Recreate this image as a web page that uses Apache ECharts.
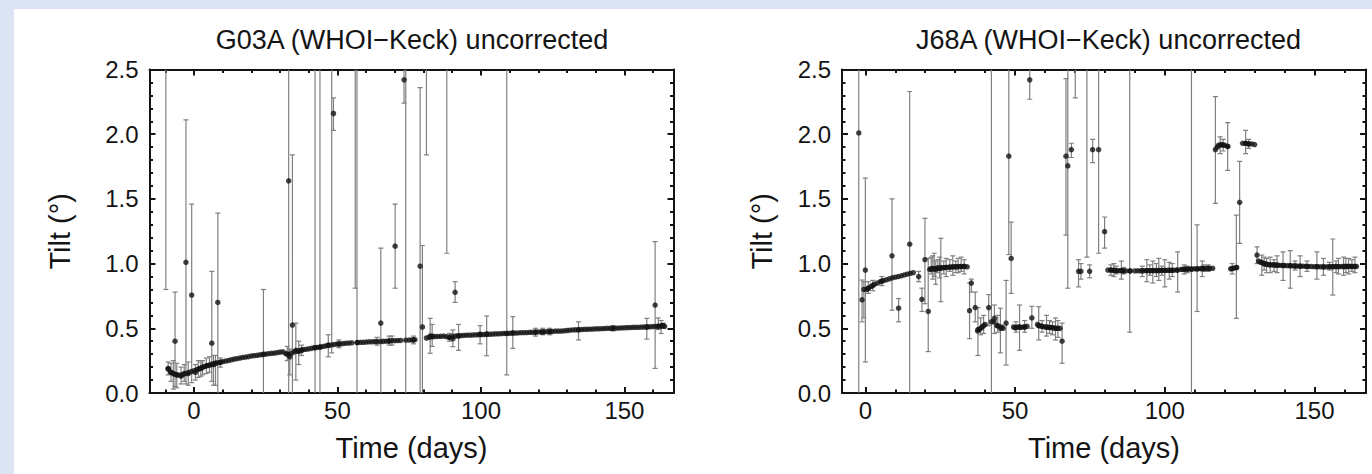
<!DOCTYPE html>
<html>
<head>
<meta charset="utf-8">
<script src="https://cdn.jsdelivr.net/npm/echarts@6/dist/echarts.min.js"></script>
<style>
html,body{margin:0;padding:0;background:#dce4f4;width:1372px;height:474px;overflow:hidden;}
#chart{position:absolute;left:14px;top:9px;width:1358px;height:465px;background:#ffffff;}
</style>
</head>
<body>
<div id="chart"></div>
<script>
// ---------------- DATA ----------------
const xTickValues = [0, 50, 100, 150];
const xMinorTicks = [-10, 10, 20, 30, 40, 60, 70, 80, 90, 110, 120, 130, 140, 160];
const yTickLabels = ['0.0', '0.5', '1.0', '1.5', '2.0', '2.5'];

const titles = ['G03A (WHOI\u2212Keck) uncorrected', 'J68A (WHOI\u2212Keck) uncorrected'];

// G03A dense series (no visible error bars)
const g03BandDays = [-9,-8,-7,-6,-5,-4,-3,-2,-1,0,1,2,3,4,5,6,7,8,9,10,11,12,13,14,15,16,17,18,19,20,21,22,23,24,25,26,27,28,29,30,31,32,33,34,35,36,37,38,39,40,41,42,43,44,45,46,47,48,49,50,51,52,53,54,55,
  57,58,59,60,61,62,63,65,66,67,68,70,71,72,75,76,77,
  81,82,83,84,85,86,87,88,89,90,91,92,93,94,95,96,97,98,99,100,101,102,103,104,105,106,107,108,109,110,111,112,113,114,115,116,117,118,119,120,121,122,123,124,125,126,127,128,129,130,131,132,133,134,135,136,137,138,139,140,141,142,143,144,145,146,147,148,149,150,151,152,153,154,155,156,157,158,159,160,161,162,163,164];
const g03BandTilt = [0.185,0.16,0.148,0.14,0.138,0.142,0.15,0.158,0.165,0.172,0.18,0.19,0.198,0.207,0.213,0.221,0.226,0.232,0.236,0.242,0.247,0.251,0.257,0.262,0.265,0.27,0.275,0.278,0.281,0.286,0.288,0.291,0.295,0.297,0.30,0.304,0.306,0.308,0.312,0.316,0.318,0.305,0.298,0.308,0.318,0.324,0.33,0.335,0.338,0.341,0.345,0.35,0.352,0.355,0.36,0.365,0.368,0.371,0.375,0.379,0.38,0.382,0.385,0.386,0.388,
  0.39,0.392,0.392,0.394,0.396,0.396,0.397,0.398,0.399,0.40,0.402,0.404,0.405,0.406,0.409,0.41,0.412,
  0.425,0.43,0.434,0.436,0.437,0.438,0.44,0.435,0.43,0.438,0.44,0.443,0.444,0.445,0.447,0.447,0.448,0.45,0.45,0.451,0.452,0.454,0.454,0.455,0.457,0.457,0.458,0.46,0.46,0.461,0.463,0.463,0.464,0.466,0.466,0.467,0.469,0.469,0.47,0.472,0.472,0.473,0.475,0.475,0.476,0.478,0.478,0.479,0.481,0.483,0.485,0.487,0.488,0.489,0.49,0.492,0.492,0.493,0.494,0.496,0.496,0.497,0.498,0.5,0.5,0.501,0.501,0.502,0.503,0.504,0.505,0.506,0.507,0.508,0.508,0.509,0.51,0.511,0.512,0.513,0.514,0.516,0.52,0.515];

// G03A points with error bars (day, tilt, lower end, upper end)
const g03BarDays = [-9.8,-9.0,-6.6,-6.0,-4.5,-2.8,-2.0,-0.8,0.5,3.0,6.2,6.8,8.3,7.5,24.2,33.0,33.4,34.3,35.5,36.5,42.2,43.9,46.8,48.0,48.6,56.2,56.8,65.1,68.0,70.1,73.2,73.8,78.8,79.6,81.0,82.3,83.0,88.1,90.2,91.0,92.2,99.7,102.0,109.0,111.1,119.0,134.0,157.8,160.7,161.8,163.5,
  -8.0,-7.2,-3.4,1.5,2.4,4.3,5.4,9.2,32.5,37.5,50.5,63.8,69.0,76.5,89.0,121.5,124.0,146.0,162.8];
const g03BarTilt = [2.9,0.19,0.40,0.14,0.13,1.01,0.15,0.757,0.16,0.20,0.385,0.22,0.70,0.23,0.30,1.64,0.28,0.525,0.33,0.32,0.35,0.355,0.37,2.7,2.16,2.9,0.39,0.54,0.40,1.135,2.42,0.408,0.98,0.51,2.9,0.44,0.44,2.9,0.42,0.778,0.44,0.454,0.456,0.46,0.465,0.47,0.487,0.51,0.68,0.515,0.52,
  0.16,0.15,0.15,0.185,0.19,0.21,0.215,0.237,0.30,0.33,0.378,0.397,0.404,0.41,0.43,0.472,0.475,0.50,0.516];
const g03BarLow = [0.80,0.14,0.05,0.04,0.07,0.07,0.06,0.08,0.10,0.14,0.09,0.06,-0.2,0.06,-0.2,-0.2,0.14,-0.2,0.10,0.22,-0.3,-0.3,0.28,0.31,2.03,0.81,-0.3,-0.1,0.37,0.81,2.24,-0.3,-0.4,-0.1,1.84,0.307,0.36,1.08,0.358,0.70,0.33,0.38,0.288,0.14,0.345,0.44,0.41,0.417,0.19,0.49,0.50,
  0.09,0.03,0.09,0.12,0.13,0.15,0.16,0.20,0.25,0.29,0.35,0.37,0.37,0.38,0.40,0.45,0.45,0.48,0.46];
const g03BarHigh = [5.0,0.24,0.78,0.23,0.20,2.11,0.24,1.46,0.22,0.25,0.94,0.29,1.39,0.29,0.80,3.5,0.34,1.84,0.54,0.40,3.0,3.0,0.45,5.0,2.28,5.0,3.0,1.12,0.44,1.46,2.6,3.0,2.36,1.14,5.0,0.577,0.53,5.0,0.487,0.86,0.53,0.52,0.595,3.0,0.59,0.50,0.55,0.577,1.17,0.58,0.54,
  0.23,0.25,0.22,0.25,0.24,0.27,0.28,0.27,0.36,0.37,0.41,0.43,0.44,0.44,0.46,0.50,0.50,0.52,0.56];

// J68A dense series
const j68BandDays = [0.5,1,2,3,4,5,6,7,8,9,10,11,12,13,14,15,16,
  21.5,22,23,24,25,26,27,28,29,30,31,32,33,34,
  37.5,38,39,40,
  43,44,45.5,46,
  49.5,50,51,52,53,54,
  57.5,58,59,60,61,62,63,64,65,
  81,82,83,84,85,86,87,88.5,90,
  91,92,93,94,95,96,97,98,99,100,101,102,103,104,
  105.5,106,107,108,109,110,111,112,113,114,115,116,
  117.5,118,119,120,121,
  122,123,124,
  126,127,128,129,130,
  131.3,132,133,134,135,136,137,138,139,140,141,142,143,144,145,146,147,148,149,150,151,152,153,154,155,156,157,158,159,160,161,162,163,164];
const j68BandTilt = [0.80,0.81,0.825,0.84,0.85,0.86,0.868,0.875,0.882,0.89,0.895,0.90,0.906,0.912,0.918,0.925,0.93,
  0.955,0.96,0.962,0.965,0.967,0.968,0.97,0.972,0.974,0.975,0.976,0.977,0.978,0.975,
  0.48,0.49,0.51,0.53,
  0.55,0.52,0.51,0.50,
  0.51,0.505,0.51,0.508,0.51,0.515,
  0.53,0.52,0.515,0.51,0.508,0.505,0.503,0.50,0.50,
  0.95,0.95,0.948,0.945,0.945,0.944,0.944,0.943,0.943,
  0.944,0.944,0.945,0.945,0.945,0.946,0.946,0.946,0.947,0.947,0.948,0.948,0.949,0.95,
  0.955,0.956,0.957,0.958,0.958,0.96,0.96,0.961,0.962,0.963,0.963,0.964,
  1.90,1.915,1.92,1.915,1.905,
  0.96,0.965,0.97,
  1.93,1.93,1.925,1.925,1.92,
  1.02,1.01,1.0,0.995,0.99,0.99,0.988,0.987,0.986,0.985,0.984,0.983,0.982,0.981,0.98,0.98,0.979,0.978,0.977,0.976,0.976,0.975,0.975,0.975,0.976,0.976,0.977,0.977,0.977,0.978,0.978,0.978,0.978,0.978];

// J68A points with error bars
const j68BarDays = [-2.2,-1.1,-0.5,0.0,8.9,11.1,14.8,17.8,18.9,19.9,21.0,22.5,23.5,25.2,27.0,29.2,31.0,33.0,34.8,35.4,36.7,37.6,41.2,42.1,43.1,45.1,47.0,47.9,48.7,51.5,54.9,55.6,57.9,60.5,63.5,65.7,67.0,67.6,68.8,70.1,71.2,72.0,74.0,74.9,75.9,77.9,79.9,83.0,85.5,88.3,94.0,96.0,98.0,100.0,101.5,104.3,108.9,110.8,112.5,116.9,118.5,121.0,122.5,123.9,125.0,127.0,130.8,132.4,135.2,139.5,141.9,145.2,150.8,153.0,156.1,158.0,159.7,161.4,
  1.0,2.5,5.5,22.0,23.0,24.2,24.8,26.2,28.2,30.2,32.0,38.5,39.5,44.2,50.3,53.2,59.0,61.5,62.5,64.3,82.0,83.8,86.2,92.5,95.0,97.2,99.0,102.5,106.5,107.5,113.0,114.5,119.5,128.0,133.2,134.0,136.5,137.5,143.5,147.5,155.0,157.2,160.5,162.5,163.5];
const j68BarTilt = [2.01,0.72,0.80,0.95,1.06,0.655,1.15,0.90,0.724,1.03,0.63,0.96,0.955,0.965,0.97,0.975,0.976,0.978,0.636,0.85,0.66,0.49,0.66,0.55,0.577,0.50,0.54,1.83,1.04,0.51,2.42,0.58,0.52,0.51,0.50,0.40,1.83,1.755,1.88,2.8,0.94,0.94,2.9,0.94,1.88,1.88,1.247,0.948,0.945,0.943,0.945,0.946,0.946,0.947,0.948,0.95,0.958,0.96,0.962,1.88,1.915,1.905,0.962,0.968,1.474,1.93,1.066,1.01,0.99,0.986,0.984,0.98,0.976,0.975,0.976,0.977,0.977,0.978,
  0.81,0.83,0.865,0.96,0.962,0.965,0.965,0.968,0.972,0.975,0.977,0.50,0.52,0.52,0.505,0.51,0.515,0.507,0.505,0.50,0.95,0.945,0.944,0.944,0.945,0.946,0.947,0.948,0.956,0.957,0.962,0.963,1.915,1.925,1.0,0.995,0.99,0.988,0.982,0.978,0.976,0.977,0.978,0.978,0.978];
const j68BarLow = [-0.3,0.55,0.58,0.24,0.64,0.55,-0.3,0.86,0.63,0.69,0.32,0.88,0.84,0.706,0.90,0.91,0.93,0.92,0.42,0.78,0.55,0.29,0.52,-0.3,0.46,0.31,0.216,1.07,0.77,0.33,2.27,0.50,0.41,0.44,0.41,0.23,1.22,0.81,1.82,2.28,0.82,0.88,1.05,0.89,1.78,1.08,1.12,0.90,0.88,0.47,0.86,0.85,0.87,0.82,0.88,0.78,-0.3,0.63,0.90,1.466,1.85,1.72,0.92,0.577,1.157,1.85,1.0,0.91,0.93,0.87,0.81,0.90,0.88,0.91,0.757,0.92,0.91,0.92,
  0.77,0.79,0.83,0.92,0.90,0.93,0.89,0.92,0.94,0.93,0.94,0.45,0.46,0.47,0.47,0.47,0.47,0.46,0.45,0.43,0.91,0.92,0.92,0.90,0.91,0.90,0.91,0.90,0.92,0.93,0.94,0.94,1.87,1.89,0.95,0.93,0.94,0.93,0.95,0.94,0.95,0.93,0.93,0.94,0.93];
const j68BarHigh = [3.0,0.873,0.86,1.66,1.50,0.73,2.33,0.94,0.81,1.35,1.04,1.06,1.02,1.195,1.04,1.06,1.04,1.03,0.85,0.88,0.78,0.66,0.76,3.0,0.68,0.655,0.87,3.0,1.32,0.68,2.6,0.67,0.667,0.60,0.58,0.54,2.43,2.7,1.93,5.0,1.03,1.0,5.0,0.99,1.96,2.7,1.36,1.00,1.02,3.0,1.03,1.02,1.04,1.03,1.01,1.09,3.0,1.30,1.02,2.29,1.98,2.09,1.0,1.375,1.79,2.03,1.13,1.066,1.05,1.09,1.10,1.06,1.09,1.04,1.19,1.04,1.05,1.04,
  0.86,0.87,0.90,1.05,1.08,1.03,1.05,1.02,1.03,1.02,1.05,0.58,0.60,0.60,0.55,0.56,0.56,0.56,0.55,0.56,0.99,0.98,0.97,0.98,0.99,1.0,0.98,1.0,0.99,0.98,0.99,0.99,1.96,1.96,1.05,1.04,1.03,1.06,1.02,1.02,1.01,1.02,1.04,1.03,1.05];

// ---------------- CHART ----------------
const FONT = "'Liberation Sans', Arial, Helvetica, sans-serif";
const INK = '#141414';
const BARCOL = '#808080';

const panels = [
  { grid: {left: 135.5, top: 60.5, width: 524, height: 323.5}, xMin: -15.5, xMax: 167.1, yNameGap: 75, titleX: 398,
    title: titles[0], bandDays: g03BandDays, bandTilt: g03BandTilt,
    barDays: g03BarDays, barTilt: g03BarTilt, barLow: g03BarLow, barHigh: g03BarHigh },
  { grid: {left: 828, top: 60.5, width: 524, height: 323.5}, xMin: -7.8, xMax: 167.2, yNameGap: 65.5, titleX: 1094.5,
    title: titles[1], bandDays: j68BandDays, bandTilt: j68BandTilt,
    barDays: j68BarDays, barTilt: j68BarTilt, barLow: j68BarLow, barHigh: j68BarHigh }
];

function errRender(params, api) {
  const cs = params.coordSys;
  const t = api.value(0), lo = api.value(2), hi = api.value(3);
  const pLo = api.coord([t, lo]);
  const pHi = api.coord([t, hi]);
  const x = pLo[0];
  if (x < cs.x - 1 || x > cs.x + cs.width + 1) return;
  const top = cs.y, bot = cs.y + cs.height;
  const y1 = Math.max(top, Math.min(bot, pHi[1]));
  const y2 = Math.max(top, Math.min(bot, pLo[1]));
  const st = {stroke: BARCOL, lineWidth: 1.2};
  const kids = [{type: 'line', shape: {x1: x, y1: y1, x2: x, y2: y2}, style: st}];
  const cw = 2.5;
  if (pHi[1] >= top && pHi[1] <= bot) kids.push({type: 'line', shape: {x1: x - cw, y1: pHi[1], x2: x + cw, y2: pHi[1]}, style: st});
  if (pLo[1] <= bot && pLo[1] >= top) kids.push({type: 'line', shape: {x1: x - cw, y1: pLo[1], x2: x + cw, y2: pLo[1]}, style: st});
  return {type: 'group', children: kids};
}

const grids = [], xAxes = [], yAxes = [], series = [], graphics = [];
const lineSt = {color: INK, width: 2};

panels.forEach((p, gi) => {
  grids.push(Object.assign({containLabel: false}, p.grid));
  const base = {gridIndex: gi, type: 'value', min: p.xMin, max: p.xMax, splitLine: {show: false}};
  xAxes.push(Object.assign({}, base, {
    position: 'bottom',
    axisLine: {onZero: false, lineStyle: lineSt},
    axisTick: {inside: true, length: 6, lineStyle: lineSt, customValues: xTickValues},
    axisLabel: {customValues: xTickValues, fontSize: 24, color: INK, margin: 5, fontFamily: FONT},
    name: 'Time (days)', nameLocation: 'middle', nameGap: 40,
    nameTextStyle: {fontSize: 29, color: INK, fontFamily: FONT}
  }));
  xAxes.push(Object.assign({}, base, {
    position: 'bottom',
    axisLine: {show: false, onZero: false},
    axisTick: {inside: true, length: 3.5, lineStyle: lineSt, customValues: xMinorTicks},
    axisLabel: {show: false}
  }));
  xAxes.push(Object.assign({}, base, {
    position: 'top',
    axisLine: {onZero: false, lineStyle: lineSt},
    axisTick: {inside: true, length: 6, lineStyle: lineSt, customValues: xTickValues},
    axisLabel: {show: false}
  }));
  xAxes.push(Object.assign({}, base, {
    position: 'top',
    axisLine: {show: false, onZero: false},
    axisTick: {inside: true, length: 3.5, lineStyle: lineSt, customValues: xMinorTicks},
    axisLabel: {show: false}
  }));
  const ybase = {gridIndex: gi, type: 'value', min: 0, max: 2.5, interval: 0.5,
    splitLine: {show: false}, minorSplitLine: {show: false},
    axisLine: {onZero: false, lineStyle: lineSt},
    axisTick: {inside: true, length: 6, lineStyle: lineSt},
    minorTick: {show: true, splitNumber: 5, length: 3.5, lineStyle: lineSt}};
  yAxes.push(Object.assign({}, ybase, {
    position: 'left',
    axisLabel: {fontSize: 24, color: INK, margin: 11, fontFamily: FONT, formatter: (v, i) => yTickLabels[i]},
    name: 'Tilt (\u00b0)', nameLocation: 'middle', nameGap: p.yNameGap, nameRotate: 90,
    nameTextStyle: {fontSize: 29, color: INK, fontFamily: FONT}
  }));
  yAxes.push(Object.assign({}, ybase, {position: 'right', axisLabel: {show: false}}));

  const rows = p.barDays.map((d, i) => [d, p.barTilt[i], p.barLow[i], p.barHigh[i]]);
  series.push({
    type: 'custom', xAxisIndex: gi * 4, yAxisIndex: gi * 2, renderItem: errRender,
    data: rows, encode: {x: 0, y: 1}, silent: true, z: 2, clip: true
  });
  series.push({
    type: 'scatter', xAxisIndex: gi * 4, yAxisIndex: gi * 2, symbol: 'circle', symbolSize: 5.5,
    data: p.bandDays.map((d, i) => [d, p.bandTilt[i]]),
    itemStyle: {color: INK}, silent: true, z: 3, clip: true
  });
  series.push({
    type: 'scatter', xAxisIndex: gi * 4, yAxisIndex: gi * 2, symbol: 'circle', symbolSize: 5.5,
    data: rows.map(r => [r[0], r[1]]),
    itemStyle: {color: INK}, silent: true, z: 4, clip: true
  });
  graphics.push({
    type: 'text', x: p.titleX, y: 31, silent: true,
    style: {text: p.title, fontSize: 27, fontFamily: FONT, fill: INK, align: 'center', verticalAlign: 'middle'}
  });
});

const chart = echarts.init(document.getElementById('chart'), null, {renderer: 'svg'});
chart.setOption({
  animation: false,
  backgroundColor: '#ffffff',
  grid: grids,
  xAxis: xAxes,
  yAxis: yAxes,
  series: series,
  graphic: graphics
});
</script>
</body>
</html>
